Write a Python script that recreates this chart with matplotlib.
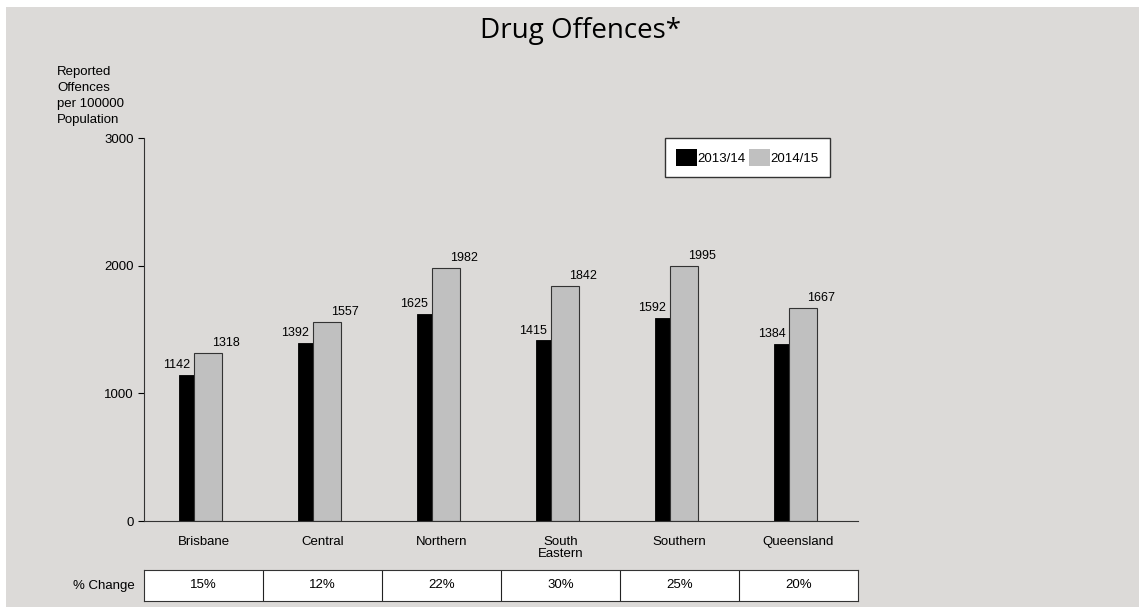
import numpy as np
import matplotlib.pyplot as plt
from matplotlib.patches import Rectangle, Patch

regions = ["Brisbane", "Central", "Northern", "South\nEastern", "Southern", "Queensland"]
y2013 = [1142, 1392, 1625, 1415, 1592, 1384]
y2014 = [1318, 1557, 1982, 1842, 1995, 1667]
pct_change = ["15%", "12%", "22%", "30%", "25%", "20%"]

bg = "#dcdad8"
plt.rcParams['font.family'] = ['Liberation Sans', 'DejaVu Sans']

fig = plt.figure(figsize=(11.39, 6.07), dpi=100, facecolor="white")
# grey page with thin white border at top/left
fig.patches.append(Rectangle((6/1139, 0), 1, 1 - 7/607, transform=fig.transFigure,
                             facecolor=bg, edgecolor="none", zorder=-10))

ax = fig.add_axes([144/1139, 1 - 521/607, 714/1139, 383/607])
ax.set_facecolor("none")

x = np.arange(len(regions))
ax.bar(x - 0.143, y2013, width=0.126, color="black", edgecolor="black", linewidth=0.6,
       zorder=2)
ax.bar(x + 0.037, y2014, width=0.235, color="#c0c0c0", edgecolor="#333333", linewidth=0.8,
       zorder=2)

for i in range(len(regions)):
    ax.text(x[i] - 0.11, y2013[i] + 30, str(y2013[i]), ha="right", va="bottom", fontsize=9)
    ax.text(x[i] + 0.07, y2014[i] + 30, str(y2014[i]), ha="left", va="bottom", fontsize=9)

ax.set_xlim(-0.5, len(regions) - 0.5)
ax.set_ylim(0, 3000)
ax.set_yticks([0, 1000, 2000, 3000])
ax.tick_params(axis="y", direction="out", length=4, labelsize=9.5, width=0.8)
ax.set_xticks(x)
ax.set_xticklabels(regions, fontsize=9.5, linespacing=1.0)
ax.tick_params(axis="x", length=0, pad=11)
for s in ["top", "right"]:
    ax.spines[s].set_visible(False)
ax.spines["left"].set_color("#333333")
ax.spines["bottom"].set_color("#333333")

handles = [Patch(facecolor="black", edgecolor="none", label="2013/14"),
           Patch(facecolor="#c0c0c0", edgecolor="none", label="2014/15")]
leg = ax.legend(handles=handles, loc="upper left", bbox_to_anchor=((665-144)/714, 1.0),
                ncol=2, frameon=True, fancybox=False, fontsize=9.5, handlelength=1.55,
                handleheight=1.55, handletextpad=0.05, columnspacing=0.3,
                borderpad=0.85, borderaxespad=0)
leg.get_frame().set_edgecolor("#333333")
leg.get_frame().set_facecolor("white")
leg.get_frame().set_alpha(1)

# % change table
tax = fig.add_axes([144/1139, 1 - 601/607, 714/1139, 31/607])
tax.set_xlim(-0.5, len(regions) - 0.5)
tax.set_ylim(0, 1)
tax.set_facecolor("white")
for i, p in enumerate(pct_change):
    tax.text(i, 0.5, p, ha="center", va="center", fontsize=9.5)
    if i > 0:
        tax.axvline(i - 0.5, color="#222222", linewidth=0.8)
tax.set_xticks([])
tax.set_yticks([])
for s in tax.spines.values():
    s.set_color("#333333")
    s.set_linewidth(0.8)

fig.text(104/1139, 1 - 586/607, "% Change", ha="center", va="center", fontsize=9.5)
fig.text(57/1139, 1 - 66/607, "Reported\nOffences\nper 100000\nPopulation",
         ha="left", va="top", fontsize=9.5, linespacing=1.45)
fig.text(580/1139, 1 - 31/607, "Drug Offences*", ha="center", va="center",
         fontsize=20, family=["Open Sans", "DejaVu Sans"])

fig.savefig("out.png", dpi=100, facecolor=fig.get_facecolor())
